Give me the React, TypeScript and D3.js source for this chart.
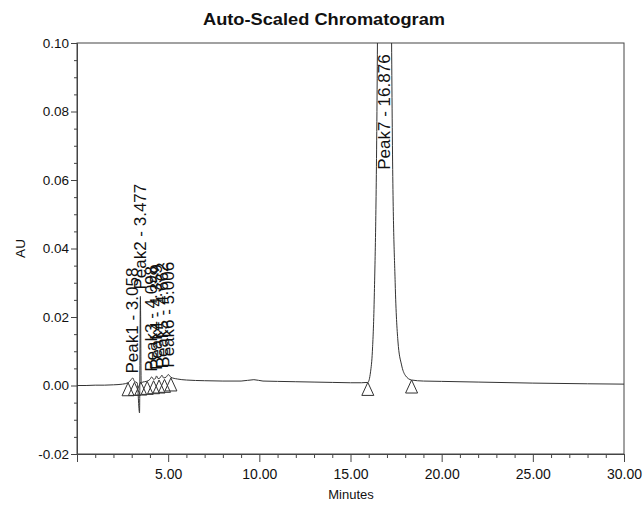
import { useEffect, useRef } from "react";
import {
  axisBottom,
  axisLeft,
  curveMonotoneX,
  format,
  line,
  range,
  scaleLinear,
  select,
} from "d3";

const width = 643;
const height = 506;
const margin = { top: 43, right: 19, bottom: 52, left: 77 };

const innerWidth = width - margin.left - margin.right;
const innerHeight = height - margin.top - margin.bottom;

// trace (minutes / AU)
const traceMinutes = [
  0, 0.5, 1, 1.5, 2, 2.5, 2.8, 2.95, 3.058, 3.15, 3.3, 3.43, 3.477, 3.52,
  3.6, 3.8, 4.0, 4.098, 4.2, 4.3, 4.359, 4.45, 4.55, 4.662, 4.75, 4.9, 5.006,
  5.15, 5.5, 6, 7, 8, 9, 9.7, 10.2, 11, 12, 13, 14, 15, 15.6, 15.95, 16.1,
  16.2, 16.3, 16.45, 16.6, 16.75, 16.876, 17.0, 17.15, 17.3, 17.45, 17.6,
  17.8, 18.0, 18.35, 19, 20, 22, 25, 28, 30,
];
const traceAU = [
  0.0, 0.0, 0.0001, 0.0001, 0.0002, 0.0004, 0.0008, 0.0016, 0.0022, 0.0012,
  0.0008, -0.008, 0.026, 0.0005, 0.001, 0.0012, 0.0018, 0.0025, 0.0018,
  0.002, 0.0028, 0.002, 0.0022, 0.003, 0.0022, 0.0025, 0.0032, 0.0024, 0.0019,
  0.0016, 0.0014, 0.0013, 0.0013, 0.0017, 0.0013, 0.0012, 0.0011, 0.001,
  0.0009, 0.0008, 0.0008, 0.0009, 0.004, 0.01, 0.025, 0.08, 0.22, 0.4, 0.45,
  0.4, 0.2, 0.07, 0.03, 0.013, 0.006, 0.003, 0.0016, 0.0013, 0.0012, 0.001,
  0.0007, 0.0005, 0.0004,
];

// peak labels
const peakNames = ["Peak1", "Peak2", "Peak3", "Peak4", "Peak5", "Peak6", "Peak7"];
const peakTimes = [3.058, 3.477, 4.098, 4.359, 4.662, 5.006, 16.876];
const peakLabelAU = [0.0035, 0.028, 0.004, 0.0045, 0.005, 0.0052, 0.063];

// baseline start / end markers
const markerMinutes = [2.8, 3.15, 3.5, 3.85, 4.2, 4.5, 4.8, 5.15, 15.95, 18.35];
const markerAU = [0.0008, 0.0009, 0.001, 0.0012, 0.0014, 0.0016, 0.0018, 0.0022, 0.0009, 0.0016];

const yMajorTicks = [-0.02, 0, 0.02, 0.04, 0.06, 0.08, 0.1];
const xMajorTicks = [5, 10, 15, 20, 25, 30];

const fontFamily = "'Liberation Sans', Arial, sans-serif";
const fmt = (d: number) => format(".2f")(d).replace("\u2212", "-");

function App() {
  const xAxisRef = useRef<SVGGElement>(null);
  const yAxisRef = useRef<SVGGElement>(null);
  const xMinorRef = useRef<SVGGElement>(null);
  const yMinorRef = useRef<SVGGElement>(null);

  const x = scaleLinear().domain([0, 30]).range([0, innerWidth]);
  const y = scaleLinear().domain([-0.02, 0.1]).range([innerHeight, 0]);

  useEffect(() => {
    const gx = select(xAxisRef.current!);
    gx.selectAll("*").remove();
    axisBottom(x)
      .tickValues(xMajorTicks)
      .tickFormat(fmt)
      .tickSize(8)
      .tickPadding(7)(gx);

    const gy = select(yAxisRef.current!);
    gy.selectAll("*").remove();
    axisLeft(y)
      .tickValues(yMajorTicks)
      .tickFormat(fmt)
      .tickSize(6)
      .tickPadding(2)(gy);

    const gxm = select(xMinorRef.current!);
    gxm.selectAll("*").remove();
    axisBottom(x)
      .tickValues(range(1, 30).filter((d) => d % 5 !== 0))
      .tickFormat(() => "")
      .tickSize(4)(gxm);

    const gym = select(yMinorRef.current!);
    gym.selectAll("*").remove();
    axisLeft(y)
      .tickValues(range(-0.015, 0.1, 0.005).filter((d) => Math.abs(Math.round(d * 1000) % 20) > 1))
      .tickFormat(() => "")
      .tickSize(3)(gym);

    [gx, gy, gxm, gym].forEach((g) => {
      g.select(".domain").attr("stroke", "#444");
      g.selectAll(".tick line").attr("stroke", "#444");
      g.selectAll("text")
        .attr("fill", "#111")
        .style("font-family", fontFamily);
    });
    gx.selectAll("text").style("font-size", "14px");
    gy.selectAll("text").style("font-size", "13.5px");
    gxm.select(".domain").remove();
    gym.select(".domain").remove();
  });

  const trace = line<number>()
    .x((_, i) => x(traceMinutes[i]))
    .y((d) => y(d))
    .curve(curveMonotoneX);

  return (
    <div>
      <svg
        width={width}
        height={height}
        style={{ position: "absolute", left: 0, top: 0, background: "#fff" }}
      >
        <defs>
          <clipPath id="plot-clip">
            <rect x={0} y={0} width={innerWidth} height={innerHeight} />
          </clipPath>
        </defs>
        <text
          x={324}
          y={25}
          textAnchor="middle"
          fontFamily={fontFamily}
          fontWeight="bold"
          fontSize={16.5}
          textLength={242}
          lengthAdjust="spacingAndGlyphs"
          fill="#111"
        >
          Auto-Scaled Chromatogram
        </text>
        <text
          x={351}
          y={499}
          textAnchor="middle"
          fontFamily={fontFamily}
          fontSize={13}
          fill="#111"
        >
          Minutes
        </text>
        <text
          transform={`translate(25, ${margin.top + y(0.04)}) rotate(-90)`}
          textAnchor="middle"
          fontFamily={fontFamily}
          fontSize={13.5}
          fill="#111"
        >
          AU
        </text>
        <g transform={`translate(${margin.left}, ${margin.top})`}>
          <rect
            x={0}
            y={0}
            width={innerWidth}
            height={innerHeight}
            fill="none"
            stroke="#444"
            strokeWidth={1}
          />
          <g ref={xMinorRef} transform={`translate(0, ${innerHeight})`} />
          <g ref={yMinorRef} />
          <g ref={xAxisRef} transform={`translate(0, ${innerHeight})`} />
          <g ref={yAxisRef} />
          <g clipPath="url(#plot-clip)">
            <path
              d={trace(traceAU) ?? ""}
              fill="none"
              stroke="#333"
              strokeWidth={1}
            />
          </g>
          {markerMinutes.map((m, i) => {
            const mx = x(m);
            const my = y(markerAU[i]);
            return (
              <path
                key={"m" + i}
                d={`M${mx},${my} L${mx - 6},${my + 13} L${mx + 6},${my + 13} Z`}
                fill="none"
                stroke="#333"
                strokeWidth={1}
              />
            );
          })}
          {peakNames.map((name, i) => (
            <text
              key={name}
              transform={`translate(${x(peakTimes[i])}, ${y(peakLabelAU[i])}) rotate(-90)`}
              textAnchor="start"
              dominantBaseline="central"
              fontFamily={fontFamily}
              fontSize={17}
              fill="#111"
            >
              {`${name} - ${peakTimes[i].toFixed(3)}`}
            </text>
          ))}
        </g>
      </svg>
    </div>
  );
}

export default App;
